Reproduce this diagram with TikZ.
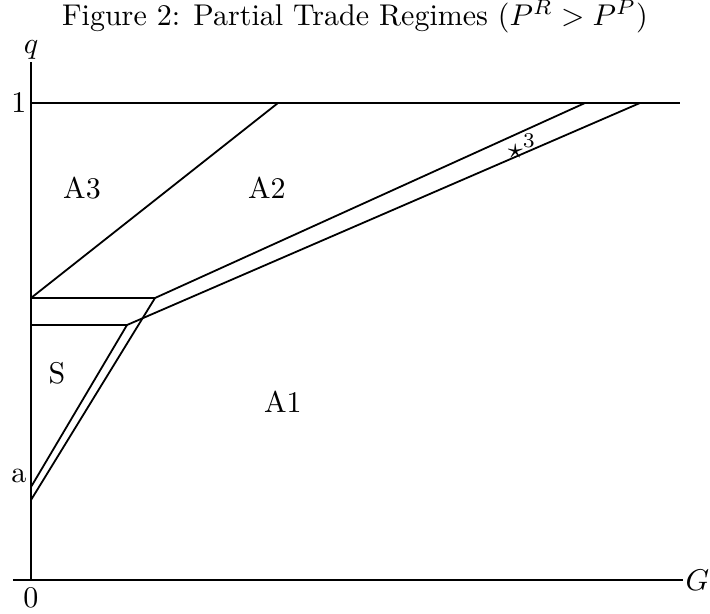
\documentclass[tikz,border=0pt]{standalone}
\begin{document}
\begin{tikzpicture}[x=0.3333pt,y=-0.3333pt,
  ln/.style={line width=0.6pt},
  lbl/.style={inner sep=0pt,font=\fontsize{10}{12}\selectfont}]
\useasboundingbox (0,0) rectangle (710,614);
% coordinates
\coordinate (O) at (31,580);
\coordinate (Ytop) at (31,62);
\coordinate (Xl) at (13,580);
\coordinate (Xr) at (683,580);
\coordinate (T0) at (31,103);
\coordinate (T1) at (680,103);
\coordinate (B1) at (31,298);
\coordinate (B2) at (31,325);
\coordinate (P1) at (155,298);
\coordinate (P2) at (127,325);
\coordinate (U1) at (278,103);
\coordinate (U2) at (585,103);
\coordinate (U3) at (640,103);
\coordinate (Aa) at (31,487);
\coordinate (Ab) at (31,500);
% axes
\draw[ln] (Ytop) -- (O);
\draw[ln] (Xl) -- (Xr);
\draw[ln] (T0) -- (T1);
% boundaries
\draw[ln] (B1) -- (U1);
\draw[ln] (B1) -- (P1) -- (U2);
\draw[ln] (B2) -- (P2) -- (U3);
\draw[ln] (Aa) -- (P2);
\draw[ln] (Ab) -- (P1);
% labels
\node[lbl] (title) at (355,17) {Figure 2: Partial Trade Regimes ($P^R > P^P$)};
\node[lbl] (q) at (31,50) {$q$};
\node[lbl,anchor=east] (one) at (27,103) {1};
\node[lbl,anchor=east] (a) at (27,476) {a};
\node[lbl] (zero) at (31,598) {0};
\node[lbl,anchor=west] (G) at (685,580) {$G$};
\node[lbl] (A3) at (82,188) {A3};
\node[lbl] (A2) at (267,188) {A2};
\node[lbl] (S) at (57,373) {S};
\node[lbl] (A1) at (283,402) {A1};
\node[lbl] (star) at (522,146) {$\star^3$};
\end{tikzpicture}
\end{document}
